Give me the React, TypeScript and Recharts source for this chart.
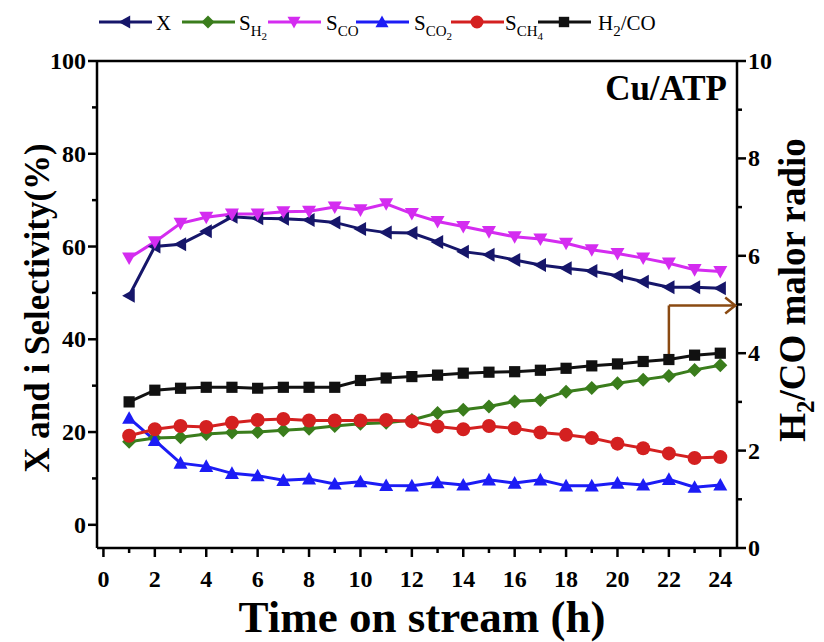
import { LineChart, Line, XAxis, YAxis, ReferenceLine, ReferenceDot } from "recharts";

const hours = [1, 2, 3, 4, 5, 6, 7, 8, 9, 10, 11, 12, 13, 14, 15, 16, 17, 18, 19, 20, 21, 22, 23, 24];
const conversion = [49.4, 60, 60.5, 63.3, 66.4, 66.1, 66, 65.7, 65.2, 63.8, 63, 62.9, 61, 58.9, 58.2, 57.1, 56, 55.3, 54.7, 53.7, 52.4, 51.2, 51.2, 51];
const selH2 = [17.9, 18.7, 18.9, 19.6, 19.9, 20, 20.4, 20.7, 21.3, 21.8, 22, 22.6, 24.1, 24.8, 25.5, 26.6, 26.9, 28.7, 29.5, 30.5, 31.3, 32.1, 33.4, 34.4];
const selCO = [57.5, 61, 65, 66.3, 67, 67, 67.5, 67.6, 68.5, 67.9, 69.2, 67.1, 65.4, 64.3, 63.2, 62.1, 61.6, 60.7, 59.3, 58.5, 57.5, 56.4, 55, 54.6];
const selCO2 = [23, 18.2, 13.3, 12.6, 11.1, 10.6, 9.6, 9.9, 8.8, 9.3, 8.5, 8.4, 9.1, 8.6, 9.7, 9.0, 9.7, 8.4, 8.4, 9.0, 8.6, 9.8, 8.1, 8.6];
const selCH4 = [19.2, 20.6, 21.3, 21.1, 22, 22.6, 22.8, 22.5, 22.5, 22.5, 22.6, 22.3, 21.2, 20.6, 21.3, 20.8, 19.9, 19.4, 18.7, 17.5, 16.5, 15.4, 14.4, 14.6];
const ratio = [3.0, 3.24, 3.28, 3.3, 3.3, 3.28, 3.3, 3.3, 3.3, 3.44, 3.49, 3.52, 3.55, 3.59, 3.61, 3.62, 3.65, 3.69, 3.74, 3.78, 3.83, 3.87, 3.96, 4.0];

const xTicks = [0, 1, 2, 3, 4, 5, 6, 7, 8, 9, 10, 11, 12, 13, 14, 15, 16, 17, 18, 19, 20, 21, 22, 23, 24];
const leftTicks = [0, 10, 20, 30, 40, 50, 60, 70, 80, 90, 100];
const rightTicks = [0, 1, 2, 3, 4, 5, 6, 7, 8, 9, 10];

const data = hours.map((h, i) => ({
  h,
  x: conversion[i],
  sh2: selH2[i],
  sco: selCO[i],
  sco2: selCO2[i],
  sch4: selCH4[i],
  ratio: ratio[i],
}));

const FONT = "'Liberation Serif', 'Times New Roman', serif";

function shapePath(shape: string, cx: number, cy: number, r: number) {
  switch (shape) {
    case "left":
      return `M${cx - r},${cy} L${cx + r * 0.8},${cy - r} L${cx + r * 0.8},${cy + r} Z`;
    case "diamond":
      return `M${cx},${cy - r} L${cx + r},${cy} L${cx},${cy + r} L${cx - r},${cy} Z`;
    case "down":
      return `M${cx - r},${cy - r * 0.8} L${cx + r},${cy - r * 0.8} L${cx},${cy + r} Z`;
    case "up":
      return `M${cx - r},${cy + r * 0.8} L${cx + r},${cy + r * 0.8} L${cx},${cy - r} Z`;
    case "square":
      return `M${cx - r * 0.8},${cy - r * 0.8} h${r * 1.6} v${r * 1.6} h${-r * 1.6} Z`;
    default:
      return `M${cx - r},${cy} a${r},${r} 0 1,0 ${2 * r},0 a${r},${r} 0 1,0 ${-2 * r},0`;
  }
}

const makeDot = (shape: string, color: string) => (props: any) => {
  const { cx, cy, index } = props;
  return <path key={`${shape}-${index}`} d={shapePath(shape, cx, cy, 7)} fill={color} />;
};

const series = [
  { key: "x", color: "#16166a", shape: "left", axis: "left" },
  { key: "sh2", color: "#3a7d1c", shape: "diamond", axis: "left" },
  { key: "sco", color: "#d42cf0", shape: "down", axis: "left" },
  { key: "sco2", color: "#1c1cf5", shape: "up", axis: "left" },
  { key: "sch4", color: "#d42020", shape: "circle", axis: "left" },
  { key: "ratio", color: "#111111", shape: "square", axis: "right" },
];

const LeftTick = (props: any) => {
  const { x, y, payload } = props;
  const major = payload.value % 20 === 0;
  return (
    <g>
      <line x1={x} x2={x - (major ? 9 : 5)} y1={y} y2={y} stroke="#000" strokeWidth={2.5} />
      {major && (
        <text x={x - 11} y={y + 8} textAnchor="end" fontFamily={FONT} fontWeight="bold" fontSize={24} fill="#000">
          {payload.value}
        </text>
      )}
    </g>
  );
};

const RightTick = (props: any) => {
  const { x, y, payload } = props;
  const major = payload.value % 2 === 0;
  return (
    <g>
      <line x1={x} x2={x + (major ? 9 : 5)} y1={y} y2={y} stroke="#000" strokeWidth={2.5} />
      {major && (
        <text x={x + 11} y={y + 8} textAnchor="start" fontFamily={FONT} fontWeight="bold" fontSize={24} fill="#000">
          {payload.value}
        </text>
      )}
    </g>
  );
};

const BottomTick = (props: any) => {
  const { x, y, payload } = props;
  const major = payload.value % 2 === 0;
  return (
    <g>
      <line x1={x} x2={x} y1={y} y2={y + (major ? 9 : 5)} stroke="#000" strokeWidth={2.5} />
      {major && (
        <text x={x} y={y + 39} textAnchor="middle" fontFamily={FONT} fontWeight="bold" fontSize={24} fill="#000">
          {payload.value}
        </text>
      )}
    </g>
  );
};

const legendItems = [
  { key: "x", x0: 99 },
  { key: "sh2", x0: 182 },
  { key: "sco", x0: 268 },
  { key: "sco2", x0: 356 },
  { key: "sch4", x0: 451 },
  { key: "ratio", x0: 538 },
];

function Legend() {
  return (
    <svg width={824} height={50} style={{ position: "absolute", left: 0, top: 0 }}>
      {legendItems.map((it) => {
        const s = series.find((d) => d.key === it.key)!;
        const mid = it.x0 + 26;
        return (
          <g key={it.key}>
            <line x1={it.x0} x2={it.x0 + 53} y1={22} y2={22} stroke={s.color} strokeWidth={3} />
            <path d={shapePath(s.shape, mid, 22, 6.5)} fill={s.color} />
          </g>
        );
      })}
      <g fontFamily={FONT} fontSize={21} fill="#000">
        <text x={156} y={30}>X</text>
        <text x={239} y={30}>S<tspan fontSize={15} dy={6}>H</tspan><tspan fontSize={11} dy={4}>2</tspan></text>
        <text x={326} y={30}>S<tspan fontSize={15} dy={6}>CO</tspan></text>
        <text x={414} y={30}>S<tspan fontSize={15} dy={6}>CO</tspan><tspan fontSize={11} dy={4}>2</tspan></text>
        <text x={505} y={30}>S<tspan fontSize={15} dy={6}>CH</tspan><tspan fontSize={11} dy={4}>4</tspan></text>
        <text x={598} y={30}>H<tspan fontSize={15} dy={6}>2</tspan><tspan dy={-6}>/CO</tspan></text>
      </g>
    </svg>
  );
}

const ArrowHead = (props: any) => {
  const { cx, cy } = props;
  return <path d={`M${cx - 11},${cy - 8} L${cx - 1},${cy} L${cx - 11},${cy + 8}`} fill="none" stroke="#8a4a12" strokeWidth={2.5} />;
};

export default function App() {
  return (
    <div style={{ position: "absolute", left: 0, top: 0, width: 824, height: 642, background: "#fff" }}>
      <Legend />
      <LineChart width={824} height={642} data={data} margin={{ top: 61, right: 27, bottom: 34, left: 37 }}>
        <XAxis
          dataKey="h"
          type="number"
          domain={[-0.25, 24.65]}
          ticks={xTicks}
          interval={0}
          height={60}
          tickSize={0}
          tickMargin={0}
          tickLine={false}
          axisLine={{ stroke: "#000", strokeWidth: 2.5 }}
          tick={<BottomTick />}
        />
        <YAxis
          yAxisId="left"
          domain={[-5, 100]}
          ticks={leftTicks}
          interval={0}
          width={60}
          tickSize={0}
          tickMargin={0}
          tickLine={false}
          axisLine={{ stroke: "#000", strokeWidth: 2.5 }}
          tick={<LeftTick />}
        />
        <YAxis
          yAxisId="right"
          orientation="right"
          domain={[0, 10]}
          ticks={rightTicks}
          interval={0}
          width={60}
          tickSize={0}
          tickMargin={0}
          tickLine={false}
          axisLine={{ stroke: "#000", strokeWidth: 2.5 }}
          tick={<RightTick />}
        />
        <ReferenceLine yAxisId="left" y={100} stroke="#000" strokeWidth={2.5} />
        {series.map((s) => (
          <Line
            key={s.key}
            yAxisId={s.axis}
            dataKey={s.key}
            type="linear"
            stroke={s.color}
            strokeWidth={3}
            dot={makeDot(s.shape, s.color)}
            activeDot={false}
            isAnimationActive={false}
          />
        ))}
        <ReferenceLine
          yAxisId="right"
          segment={[{ x: 22, y: 3.93 }, { x: 22, y: 4.98 }]}
          stroke="#8a4a12"
          strokeWidth={2.5}
        />
        <ReferenceLine
          yAxisId="right"
          segment={[{ x: 22, y: 4.98 }, { x: 24.6, y: 4.98 }]}
          stroke="#8a4a12"
          strokeWidth={2.5}
        />
        <ReferenceDot yAxisId="right" x={24.62} y={4.98} r={0} shape={<ArrowHead />} ifOverflow="visible" />
      </LineChart>
      <svg width={824} height={642} style={{ position: "absolute", left: 0, top: 0, pointerEvents: "none" }}>
        <text x={727} y={100} textAnchor="end" fontFamily={FONT} fontWeight="bold" fontSize={35}>
          Cu/ATP
        </text>
        <text
          transform="translate(49,308) rotate(-90)"
          textAnchor="middle"
          fontFamily={FONT}
          fontWeight="bold"
          fontSize={35}
        >
          X and i Selectivity(%)
        </text>
        <text
          transform="translate(805,290) rotate(-90)"
          textAnchor="middle"
          fontFamily={FONT}
          fontWeight="bold"
          fontSize={37}
        >
          H<tspan fontSize={25} dy={9}>2</tspan><tspan dy={-9}>/CO malor radio</tspan>
        </text>
        <text x={422} y={632} textAnchor="middle" fontFamily={FONT} fontWeight="bold" fontSize={45}>
          Time on stream (h)
        </text>
      </svg>
    </div>
  );
}
